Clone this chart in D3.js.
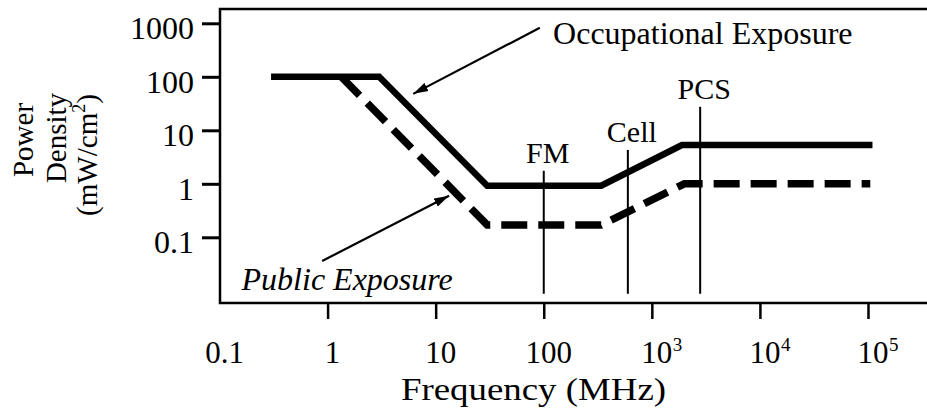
<!DOCTYPE html>
<html>
<head>
<meta charset="utf-8">
<script src="https://cdn.jsdelivr.net/npm/d3@7/dist/d3.min.js"></script>
<style>
  body { margin: 0; background: #fff; }
  text { font-family: "Liberation Serif", "Times New Roman", serif; fill: #000; }
</style>
</head>
<body>
<div id="mainArea"></div>
<script>
// values
var xTickValues = [1, 10, 100, 1000, 10000, 100000];
var xLabelValues = [0.1, 1, 10, 100, 1000, 10000, 100000];
var xLabelBase = ["0.1", "1", "10", "100", "10", "10", "10"];
var xLabelSup = ["", "", "", "", "3", "4", "5"];
var yTickValues = [0.1, 1, 10, 100, 1000];
var yTickLabels = ["0.1", "1", "10", "100", "1000"];

// occupational exposure (solid) and public exposure (dashed), MHz vs mW/cm2
var occFreq = [0.3, 3, 30, 340, 1900, 110000];
var occDensity = [100, 100, 0.92, 0.92, 5.3, 5.3];
var pubFreq = [1.34, 30, 340, 2000, 105000];
var pubDensity = [100, 0.17, 0.17, 1, 1];

// service bands drawn as vertical lines
var bandNames = ["FM", "Cell", "PCS"];
var bandFreq = [100, 600, 2800];
var bandTop = [1.75, 4.3, 27.5];
var bandBottom = 0.0088;

function mainInit()
{
  var width = 927,
      height = 415;
  var left = 220, top = 9, bottom = 303;

  var vis = d3.select("#mainArea")
      .append("svg")
      .attr("width", width)
      .attr("height", height);

  var x = d3.scaleLog().domain([0.1, 100000]).range([219.5, 868]);
  var y = d3.scaleLog().domain([0.1, 1000]).range([237.3, 23.3]);

  // arrow head
  vis.append("defs").append("marker")
      .attr("id", "head")
      .attr("markerUnits", "userSpaceOnUse")
      .attr("markerWidth", 16).attr("markerHeight", 10)
      .attr("viewBox", "0 -5 16 10")
      .attr("refX", 15).attr("refY", 0)
      .attr("orient", "auto")
      .append("path")
      .attr("d", "M0,-4.5L15,0L0,4.5Z")
      .attr("fill", "#000");

  // y ticks (outside, left)
  var yAxis = d3.axisLeft(y).tickValues(yTickValues).tickSize(18).tickFormat("");
  var gy = vis.append("g").attr("transform", "translate(" + left + ",0)").call(yAxis);
  gy.select(".domain").remove();
  gy.selectAll(".tick line").attr("stroke", "#000").attr("stroke-width", 3);

  vis.selectAll("text.ylab")
      .data(yTickValues)
      .enter()
      .append("text")
      .attr("class", "ylab")
      .attr("x", 194)
      .attr("y", function(d) { return y(d) + 16; })
      .attr("text-anchor", "end")
      .style("font-size", "32px")
      .text(function(d, i) { return yTickLabels[i]; });

  // x ticks (below axis)
  var xAxis = d3.axisBottom(x).tickValues(xTickValues).tickSize(16).tickFormat("");
  var gx = vis.append("g").attr("transform", "translate(0," + bottom + ")").call(xAxis);
  gx.select(".domain").remove();
  gx.selectAll(".tick line").attr("stroke", "#000").attr("stroke-width", 2.5);

  var xl = vis.selectAll("g.xlab")
      .data(xLabelValues)
      .enter()
      .append("g")
      .attr("class", "xlab");
  xl.append("text")
      .attr("class", "base")
      .attr("x", function(d) { return x(d) + 5; })
      .attr("y", 363)
      .attr("text-anchor", "middle")
      .style("font-size", "31px")
      .text(function(d, i) { return xLabelBase[i]; });
  xl.each(function(d, i) {
    if (!xLabelSup[i]) return;
    var g = d3.select(this);
    var w = g.select("text.base").node().getComputedTextLength();
    g.append("text")
        .attr("x", x(d) + 5 + w / 2 + 0.5)
        .attr("y", 351)
        .style("font-size", "19px")
        .text(xLabelSup[i]);
  });

  // frame: left, top and bottom, open on the right
  vis.append("path")
      .attr("d", "M" + width + "," + top + "H" + left + "V" + bottom + "H" + width)
      .attr("fill", "none")
      .attr("stroke", "#000")
      .attr("stroke-width", 2.5);

  // band lines
  vis.selectAll("line.band")
      .data(bandFreq)
      .enter()
      .append("line")
      .attr("class", "band")
      .attr("x1", function(d) { return x(d); })
      .attr("x2", function(d) { return x(d); })
      .attr("y1", function(d, i) { return y(bandTop[i]); })
      .attr("y2", y(bandBottom))
      .attr("stroke", "#000")
      .attr("stroke-width", 2);

  vis.selectAll("text.band")
      .data(bandFreq)
      .enter()
      .append("text")
      .attr("class", "band")
      .attr("x", function(d) { return x(d) + 4; })
      .attr("y", function(d, i) { return y(bandTop[i]) - 8; })
      .attr("text-anchor", "middle")
      .style("font-size", "30px")
      .text(function(d, i) { return bandNames[i]; });

  var line = d3.line()
      .x(function(d) { return x(d[0]); })
      .y(function(d) { return y(d[1]); });

  vis.append("path")
      .attr("d", line(d3.zip(pubFreq, pubDensity)))
      .attr("fill", "none")
      .attr("stroke", "#000")
      .attr("stroke-width", 7.5)
      .attr("stroke-dasharray", "26,11");

  vis.append("path")
      .attr("d", line(d3.zip(occFreq, occDensity)))
      .attr("fill", "none")
      .attr("stroke", "#000")
      .attr("stroke-width", 6.5);

  // annotations, placed in data space
  vis.append("line")
      .attr("x1", x(92)).attr("y1", y(824))
      .attr("x2", x(6.2)).attr("y2", y(48))
      .attr("stroke", "#000").attr("stroke-width", 2.2)
      .attr("marker-end", "url(#head)");
  vis.append("text")
      .attr("x", x(122)).attr("y", y(414))
      .style("font-size", "32px")
      .text("Occupational Exposure");

  vis.append("line")
      .attr("x1", x(0.89)).attr("y1", y(0.036))
      .attr("x2", x(13.3)).attr("y2", y(0.6))
      .attr("stroke", "#000").attr("stroke-width", 2.2)
      .attr("marker-end", "url(#head)");
  vis.append("text")
      .attr("x", x(0.16)).attr("y", y(0.0104))
      .style("font-size", "32px")
      .style("font-style", "italic")
      .text("Public Exposure");

  // axis titles
  vis.append("text")
      .attr("x", 401).attr("y", 400)
      .attr("textLength", 265)
      .attr("lengthAdjust", "spacingAndGlyphs")
      .style("font-size", "32px")
      .text("Frequency (MHz)");

  var ylab = vis.append("g")
      .attr("transform", "translate(0,150) rotate(-90)")
      .attr("text-anchor", "middle")
      .style("font-size", "29px");
  ylab.append("text").attr("x", 10).attr("y", 33).text("Power");
  ylab.append("text").attr("x", 12).attr("y", 66).text("Density");
  var unit = ylab.append("text").attr("x", -5).attr("y", 97);
  unit.append("tspan").text("(mW/cm");
  unit.append("tspan").attr("dy", -12).style("font-size", "18px").text("2");
  unit.append("tspan").attr("dy", 12).text(")");
}

window.onload = mainInit;
</script>
</body>
</html>
